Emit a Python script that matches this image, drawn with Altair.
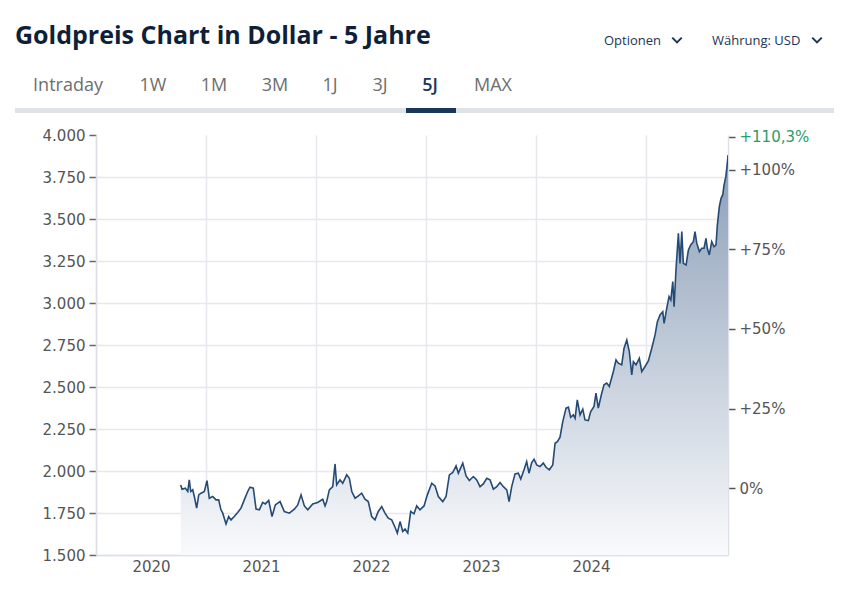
import altair as alt
import pandas as pd

# ---------------- data ----------------
year_pos = [
    2020.770, 2020.782, 2020.812, 2020.834, 2020.848, 2020.861, 2020.879, 2020.894, 2020.915, 2020.934, 2020.955, 2020.985,
    2021.009, 2021.030, 2021.061, 2021.091, 2021.115, 2021.136, 2021.152, 2021.182, 2021.206, 2021.227, 2021.257, 2021.288,
    2021.318, 2021.348, 2021.379, 2021.400, 2021.430, 2021.455, 2021.485, 2021.515, 2021.539, 2021.570, 2021.600, 2021.630,
    2021.673, 2021.712, 2021.757, 2021.803, 2021.834, 2021.864, 2021.894, 2021.925, 2021.970,
    2022.015, 2022.061, 2022.082, 2022.097, 2022.121, 2022.152, 2022.173, 2022.188, 2022.218, 2022.243, 2022.279, 2022.303,
    2022.325, 2022.355, 2022.385, 2022.415, 2022.445, 2022.475, 2022.506, 2022.536, 2022.566, 2022.597, 2022.627, 2022.657,
    2022.688, 2022.718, 2022.739, 2022.764, 2022.788, 2022.809, 2022.834, 2022.861, 2022.891, 2022.915, 2022.945, 2022.982,
    2023.012, 2023.052, 2023.082, 2023.112, 2023.152, 2023.182, 2023.212, 2023.243, 2023.273, 2023.294, 2023.334, 2023.364,
    2023.394, 2023.430, 2023.461, 2023.491, 2023.521, 2023.552, 2023.582, 2023.612, 2023.643, 2023.673, 2023.703, 2023.734,
    2023.755, 2023.779, 2023.809, 2023.839, 2023.861, 2023.891, 2023.915, 2023.936, 2023.961, 2023.982,
    2024.006, 2024.036, 2024.066, 2024.091, 2024.121, 2024.152, 2024.173, 2024.194, 2024.218, 2024.243, 2024.273, 2024.294,
    2024.315, 2024.339, 2024.355, 2024.375, 2024.400, 2024.425, 2024.445, 2024.475, 2024.497, 2024.527, 2024.545, 2024.566,
    2024.597, 2024.618, 2024.643, 2024.666, 2024.703, 2024.727, 2024.748, 2024.779, 2024.800, 2024.825, 2024.848, 2024.870,
    2024.885, 2024.909, 2024.939, 2024.961, 2024.991,
    2025.021, 2025.052, 2025.082, 2025.103, 2025.127, 2025.152, 2025.164, 2025.188, 2025.209, 2025.225, 2025.243, 2025.255,
    2025.273, 2025.294, 2025.309, 2025.325, 2025.339, 2025.364, 2025.385, 2025.406, 2025.430, 2025.445, 2025.461, 2025.485,
    2025.506, 2025.527, 2025.545, 2025.557, 2025.575, 2025.597, 2025.618, 2025.636, 2025.648, 2025.666, 2025.682, 2025.697,
    2025.709, 2025.725, 2025.734, 2025.743, 2025.745,
]
price_usd = [
    1917, 1892, 1898, 1878, 1947, 1878, 1888, 1848, 1779, 1858, 1868, 1878,
    1943, 1838, 1848, 1828, 1828, 1769, 1749, 1685, 1729, 1709, 1729, 1753,
    1779, 1828, 1878, 1904, 1898, 1773, 1769, 1813, 1804, 1825, 1729, 1798,
    1818, 1759, 1749, 1773, 1798, 1858, 1792, 1769, 1804,
    1813, 1832, 1792, 1818, 1888, 1907, 2042, 1917, 1947, 1927, 1977, 1957,
    1878, 1838, 1852, 1868, 1832, 1818, 1729, 1709, 1759, 1788, 1749, 1719,
    1709, 1665, 1630, 1699, 1640, 1654, 1630, 1759, 1745, 1792, 1769, 1792,
    1858, 1927, 1911, 1848, 1818, 1848, 1977, 1991, 2030, 1987, 2047, 1971,
    1943, 1967, 1947, 1907, 1923, 1957, 1947, 1892, 1907, 1932, 1907, 1888,
    1818, 1907, 1983, 1987, 1952, 2007, 2056, 1987, 2050, 2070,
    2036, 2026, 2047, 2022, 2007, 2036, 2165, 2175, 2201, 2294, 2374, 2380,
    2320, 2334, 2314, 2423, 2334, 2368, 2304, 2300, 2354, 2384, 2463, 2374,
    2463, 2513, 2523, 2503, 2592, 2661, 2642, 2632, 2731, 2780, 2711, 2572,
    2651, 2632, 2671, 2592, 2622,
    2655, 2731, 2810, 2889, 2929, 2948, 2879, 2968, 3038, 3018, 3127, 2978,
    3207, 3415, 3236, 3425, 3236, 3226, 3316, 3346, 3365, 3425, 3356, 3306,
    3326, 3326, 3385, 3326, 3286, 3365, 3335, 3346, 3464, 3573, 3623, 3643,
    3702, 3752, 3802, 3861, 3880,
]
base_price = 1897          # price that corresponds to 0 %
year_ticks = [2020, 2021, 2022, 2023, 2024, 2025]
price_ticks = [1500, 1750, 2000, 2250, 2500, 2750, 3000, 3250, 3500, 3750, 4000]
pct_ticks = [0, 0.25, 0.5, 0.75, 1.0, 1.103]
x_domain = [2020, 2025.745]
y_domain = [1500, 4000]

title_text = "Goldpreis Chart in Dollar - 5 Jahre"
tabs = ["Intraday", "1W", "1M", "3M", "1J", "3J", "5J", "MAX"]
selected_tab = "5J"
menu_items = ["Optionen", "Währung: USD"]

# ---------------- chart ----------------
df = pd.DataFrame({"t": year_pos, "price": price_usd})
df["pct"] = df["price"] / base_price - 1

W, H = 632, 420
NAVY = "#1b3556"
GRID = "#e5e8ed"
LBL = "#555555"
AXFONT = "DejaVu Sans"
HFONT = "Open Sans"

x_enc = alt.X(
    "t:Q",
    scale=alt.Scale(domain=x_domain, nice=False, zero=False),
    axis=alt.Axis(
        values=year_ticks, grid=True, gridColor=GRID, gridWidth=1.5, ticks=False,
        domainColor="#dde1e7", domainWidth=1.5,
        labelExpr="datum.value < 2025 ? '' + datum.value : ''",
        labelOffset=55, labelFlush=False, labelOverlap=False, labelBound=False,
        labelFont=AXFONT, labelFontSize=15, labelColor=LBL, labelPadding=4, title=None,
    ),
)

y_scale = alt.Scale(domain=y_domain, nice=False, zero=False)
y_axis = alt.Axis(
    values=price_ticks, grid=True, gridColor=GRID, gridWidth=1.5,
    gridOpacity={"condition": {"test": "datum.value >= 4000", "value": 0}, "value": 1},
    labelExpr="replace(format(datum.value, ',.0f'), ',', '.')",
    tickColor="#666666", tickSize=7, tickWidth=1.5, domainColor="#dde1e7", domainWidth=1.5,
    labelFont=AXFONT, labelFontSize=15, labelColor=LBL, labelPadding=4, title=None,
)

area = alt.Chart(df).mark_area(
    clip=True,
    color=alt.Gradient(
        gradient="linear",
        stops=[alt.GradientStop(color="#f9fafc", offset=0),
               alt.GradientStop(color="#8b9eb7", offset=1)],
        x1=1, x2=1, y1=1, y2=0,
    ),
).encode(x=x_enc, y=alt.Y("price:Q", scale=y_scale, axis=y_axis), y2=alt.datum(1500))

line = alt.Chart(df).mark_line(color="#244a76", strokeWidth=1.6, clip=True).encode(
    x=x_enc, y=alt.Y("price:Q", scale=y_scale, axis=y_axis)
)

price_layer = alt.layer(area, line)

pct_layer = alt.Chart(df).mark_line(opacity=0).encode(
    x=x_enc,
    y=alt.Y(
        "pct:Q",
        scale=alt.Scale(domain=[y_domain[0] / base_price - 1, y_domain[1] / base_price - 1],
                        nice=False, zero=False),
        axis=alt.Axis(
            orient="right", values=pct_ticks, grid=False,
            labelExpr="datum.value == 0 ? '0%' : '+' + replace(format(datum.value * 100, '.1~f'), '.', ',') + '%'",
            labelColor={"condition": {"test": "datum.value > 1.05", "value": "#2a9d68"}, "value": LBL},
            tickColor="#555555", tickSize=7, tickWidth=1.5, domainColor="#dde1e7", domainWidth=1.5,
            labelFont=AXFONT, labelFontSize=15, labelPadding=4, labelOverlap=False, labelBound=False,
            labelFlush=False, title=None,
        ),
    ),
)

one = pd.DataFrame({"k": [0]})
ox, oy = 96, 135  # plot origin in page pixels


def txt(s, px, py, **kw):
    return alt.Chart(pd.DataFrame({"s": [s]})).mark_text(**kw).encode(
        text="s:N", x=alt.value(px - ox), y=alt.value(py - oy)
    )


chrome = [
    txt(title_text, 15, 44, font=HFONT, fontSize=25, fontWeight="bold", color="#0f1f38",
        align="left", baseline="alphabetic"),
]

tab_centers = [68, 153, 214, 275, 330, 380, 430, 493]
for name, cx in zip(tabs, tab_centers):
    sel = name == selected_tab
    chrome.append(txt(name, cx, 91, font=HFONT, fontSize=18,
                      fontWeight=600 if sel else "normal",
                      color=NAVY if sel else "#6e6e6e", align="center", baseline="alphabetic"))

chrome.append(txt(menu_items[0], 604, 45, font=HFONT, fontSize=13, fontWeight=500, color=NAVY,
                  align="left", baseline="alphabetic"))
chrome.append(txt(menu_items[1], 712, 45, font=HFONT, fontSize=13, fontWeight=500, color=NAVY,
                  align="left", baseline="alphabetic"))

for cx in [677, 817]:
    chrome.append(
        alt.Chart(one).mark_point(shape="M-1,-0.5L0,0.5L1,-0.5", filled=False, size=90,
                                  strokeWidth=2, color=NAVY, opacity=1)
        .encode(x=alt.value(cx - ox), y=alt.value(40 - oy))
    )

chrome.append(
    alt.Chart(one).mark_rect(color="#dfe2e7").encode(
        x=alt.value(15 - ox), x2=alt.value(836 - ox), y=alt.value(108 - oy), y2=alt.value(113 - oy))
)
chrome.append(
    alt.Chart(one).mark_rect(color="#18365a").encode(
        x=alt.value(406 - ox), x2=alt.value(456 - ox), y=alt.value(108 - oy), y2=alt.value(113 - oy))
)

chart = (
    alt.layer(price_layer, pct_layer, *chrome)
    .resolve_scale(y="independent")
    .properties(
        width=W, height=H,
        autosize=alt.AutoSizeParams(type="none"),
        padding={"left": 88, "top": 127, "right": 106, "bottom": 40},
        background="white",
    )
    .configure_view(stroke="transparent")
)

chart.save("out.html", embed_options={"renderer": "svg", "actions": False})
